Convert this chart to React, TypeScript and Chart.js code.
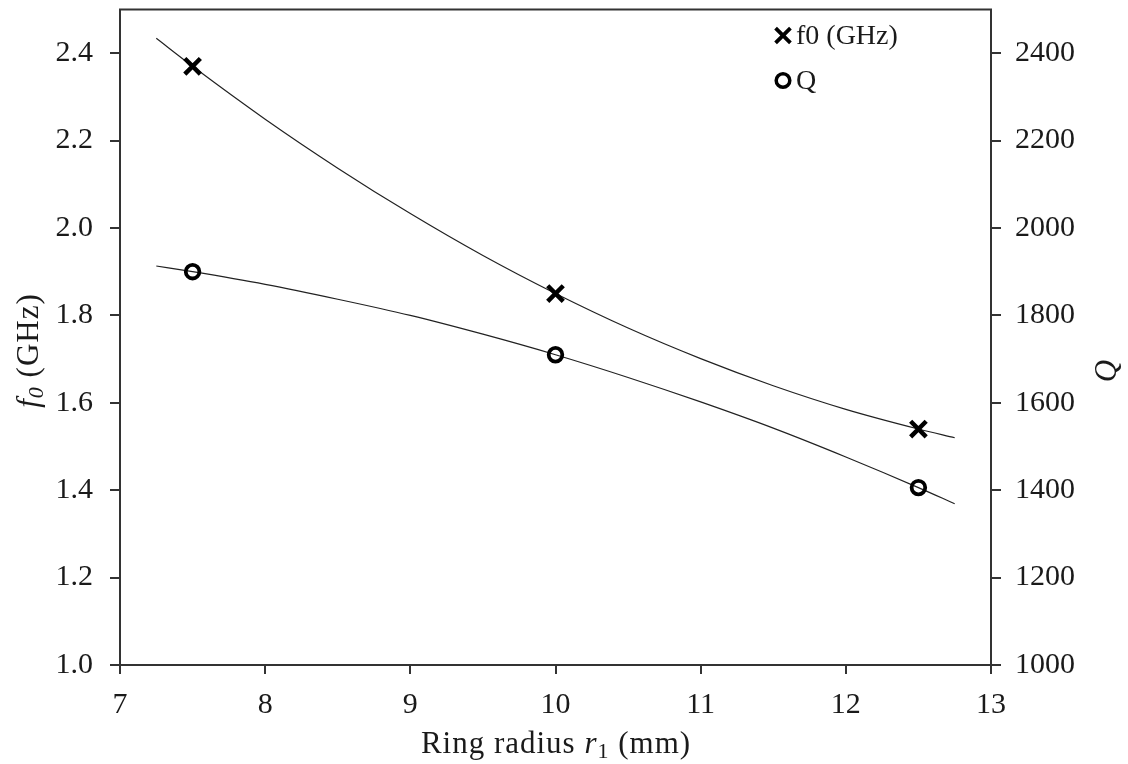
import React, { useEffect, useRef } from "react";
import { Chart, registerables } from "chart.js";

Chart.register(...registerables);

// Measured points
const radiusMm = [7.5, 10, 12.5];
const f0GHz = [2.37, 1.85, 1.54];
const qFactor = [1900, 1710, 1406];

// Trend-line samples (second-order fit)
const fitRadius = [7.25, 7.5, 8, 8.5, 9, 9.5, 10, 10.5, 11, 11.5, 12, 12.5, 12.75];
const fitF0 = [2.434, 2.37, 2.249, 2.137, 2.033, 1.937, 1.85, 1.771, 1.701, 1.639, 1.585, 1.54, 1.52];
const fitQ = [1913, 1900, 1871, 1837, 1800, 1757, 1710, 1658, 1602, 1542, 1476, 1406, 1369];

const xTicks = [7, 8, 9, 10, 11, 12, 13];
const f0Ticks = [1.0, 1.2, 1.4, 1.6, 1.8, 2.0, 2.2, 2.4];
const qTicks = [1000, 1200, 1400, 1600, 1800, 2000, 2200, 2400];

const FONT = "'Liberation Serif', 'Times New Roman', serif";
const SIZE = 30;
const TITLE_SIZE = 31;
const INK = "#1a1a1a";
const AXIS = "#333";

// canvas is a little taller than the page and lifted, so the plot frame sits near the top edge
const LIFT = 6;
const W = 1128;
const H = 764 + LIFT;

type Run = { text: string; italic?: boolean; sub?: boolean };

function drawRuns(ctx: CanvasRenderingContext2D, runs: Run[], size: number) {
  const fontOf = (r: Run) =>
    `${r.italic ? "italic " : ""}${r.sub ? Math.round(size * 0.72) : size}px ${FONT}`;
  let total = 0;
  for (const r of runs) {
    ctx.font = fontOf(r);
    total += ctx.measureText(r.text).width;
  }
  let x = -total / 2;
  for (const r of runs) {
    ctx.font = fontOf(r);
    ctx.fillText(r.text, x, r.sub ? size * 0.22 : 0);
    x += ctx.measureText(r.text).width;
  }
}

function drawCross(ctx: CanvasRenderingContext2D, x: number, y: number, r: number, w: number) {
  const d = r * Math.SQRT1_2;
  ctx.lineWidth = w;
  ctx.beginPath();
  ctx.moveTo(x - d, y - d);
  ctx.lineTo(x + d, y + d);
  ctx.moveTo(x + d, y - d);
  ctx.lineTo(x - d, y + d);
  ctx.stroke();
}

function drawRing(ctx: CanvasRenderingContext2D, x: number, y: number, r: number, w: number) {
  ctx.lineWidth = w;
  ctx.beginPath();
  ctx.arc(x, y, r, 0, Math.PI * 2);
  ctx.stroke();
}

const framePlugin = {
  id: "frameAndTitles",
  afterDraw(chart: any) {
    const { ctx, chartArea } = chart;
    const { left, right, top, bottom } = chartArea;
    ctx.save();
    ctx.strokeStyle = AXIS;
    ctx.lineWidth = 2;
    ctx.strokeRect(left, top, right - left, bottom - top);

    ctx.fillStyle = INK;
    ctx.textBaseline = "middle";
    (ctx as any).letterSpacing = "1px";

    // bottom title
    ctx.save();
    ctx.translate(556, bottom + 80);
    drawRuns(
      ctx,
      [{ text: "Ring radius " }, { text: "r", italic: true }, { text: "1", sub: true }, { text: " (mm)" }],
      TITLE_SIZE
    );
    ctx.restore();

    // left title
    ctx.save();
    ctx.translate(30, top + 341);
    ctx.rotate(-Math.PI / 2);
    drawRuns(ctx, [{ text: "f", italic: true }, { text: "0", italic: true, sub: true }, { text: " (GHz)" }], TITLE_SIZE);
    ctx.restore();

    // right title
    ctx.save();
    ctx.translate(1108, top + 361);
    ctx.rotate(-Math.PI / 2);
    drawRuns(ctx, [{ text: "Q", italic: true }], TITLE_SIZE);
    ctx.restore();
    (ctx as any).letterSpacing = "0px";

    // legend
    const ds = chart.data.datasets;
    ctx.textAlign = "left";
    ctx.font = `28px ${FONT}`;
    ctx.strokeStyle = "#000";
    drawCross(ctx, 783, top + 26, 10.5, 3.8);
    drawRing(ctx, 783, top + 71, 6.8, 3.5);
    ctx.fillStyle = INK;
    ctx.fillText(ds[0].label, 796, top + 27);
    ctx.fillText(ds[1].label, 796, top + 72);
    ctx.restore();
  },
};

const noPadY = (w: number) => (s: any) => {
  s.width = w;
  s.paddingTop = 0;
  s.paddingBottom = 0;
};

export default function App() {
  const ref = useRef<HTMLCanvasElement>(null);

  useEffect(() => {
    document.body.style.margin = "0";
    const chart = new Chart(ref.current!, {
      type: "scatter",
      data: {
        datasets: [
          {
            label: "f0 (GHz)",
            data: radiusMm.map((x, i) => ({ x, y: f0GHz[i] })),
            yAxisID: "yF",
            pointStyle: "crossRot",
            pointRadius: 11,
            pointBorderWidth: 4.5,
            pointBorderColor: "#000",
            pointBackgroundColor: "#000",
            showLine: false,
            order: 0,
          },
          {
            label: "Q",
            data: radiusMm.map((x, i) => ({ x, y: qFactor[i] })),
            yAxisID: "yQ",
            pointStyle: "circle",
            pointRadius: 6.8,
            pointBorderWidth: 3.8,
            pointBorderColor: "#000",
            pointBackgroundColor: "rgba(255,255,255,0)",
            showLine: false,
            order: 0,
          },
          {
            label: "f0 fit",
            data: fitRadius.map((x, i) => ({ x, y: fitF0[i] })),
            yAxisID: "yF",
            showLine: true,
            pointRadius: 0,
            borderColor: "#222",
            borderWidth: 1.2,
            cubicInterpolationMode: "monotone",
            order: 1,
          },
          {
            label: "Q fit",
            data: fitRadius.map((x, i) => ({ x, y: fitQ[i] })),
            yAxisID: "yQ",
            showLine: true,
            pointRadius: 0,
            borderColor: "#222",
            borderWidth: 1.2,
            cubicInterpolationMode: "monotone",
            order: 1,
          },
        ],
      },
      options: {
        animation: false,
        responsive: false,
        layout: { padding: { top: 3, left: 0, right: 0, bottom: 0 } },
        plugins: { legend: { display: false }, tooltip: { enabled: false } },
        scales: {
          x: {
            type: "linear",
            min: 7,
            max: 13,
            afterBuildTicks: (s: any) => (s.ticks = xTicks.map((v) => ({ value: v }))),
            afterFit: (s: any) => {
              s.height = 99;
              s.paddingLeft = 0;
              s.paddingRight = 0;
            },
            grid: { drawOnChartArea: false, drawTicks: true, tickLength: 9, color: AXIS, lineWidth: 2 },
            border: { display: true, color: AXIS, width: 2 },
            ticks: { color: INK, font: { family: FONT, size: SIZE }, padding: 13, maxRotation: 0 },
          },
          yF: {
            type: "linear",
            position: "left",
            min: 1.0,
            max: 2.5,
            afterBuildTicks: (s: any) => (s.ticks = f0Ticks.map((v) => ({ value: v }))),
            afterFit: noPadY(120),
            grid: { drawOnChartArea: false, drawTicks: true, tickLength: 10, color: AXIS, lineWidth: 2 },
            border: { display: true, color: AXIS, width: 2 },
            ticks: {
              color: INK,
              font: { family: FONT, size: SIZE },
              padding: 17,
              callback: (v: any) => Number(v).toFixed(1),
            },
          },
          yQ: {
            type: "linear",
            position: "right",
            min: 1000,
            max: 2500,
            afterBuildTicks: (s: any) => (s.ticks = qTicks.map((v) => ({ value: v }))),
            afterFit: noPadY(137),
            grid: { drawOnChartArea: false, drawTicks: true, tickLength: 10, color: AXIS, lineWidth: 2 },
            border: { display: true, color: AXIS, width: 2 },
            ticks: {
              color: INK,
              font: { family: FONT, size: SIZE },
              padding: 14,
              callback: (v: any) => String(v),
            },
          },
        },
      },
      plugins: [framePlugin],
    } as any);
    return () => chart.destroy();
  }, []);

  return (
    <div style={{ width: W, height: 764, overflow: "hidden" }}>
      <canvas ref={ref} width={W} height={H} style={{ display: "block", marginTop: -LIFT }} />
    </div>
  );
}
